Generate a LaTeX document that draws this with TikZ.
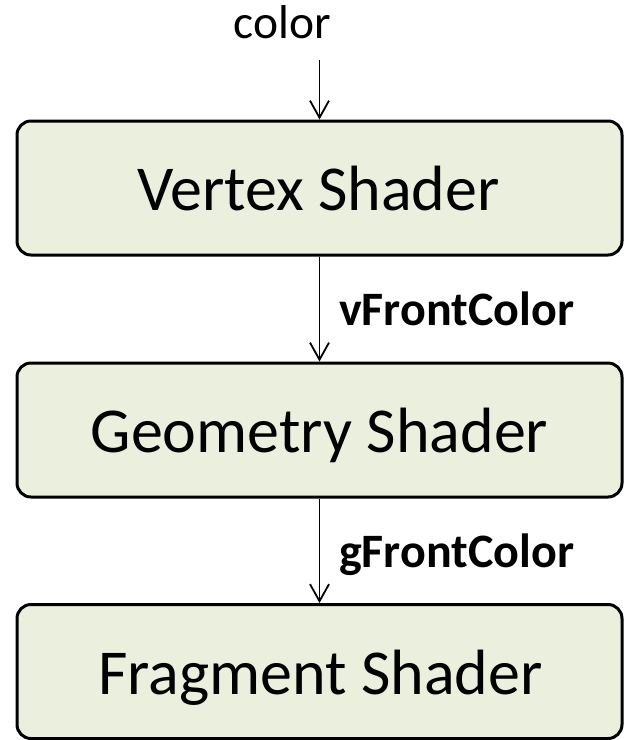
\documentclass[tikz,border=0pt]{standalone}
\usepackage{fontspec}
\setmainfont{Carlito}
\usetikzlibrary{arrows.meta}
\definecolor{boxfill}{RGB}{235,239,222}
\tikzset{
  shaderbox/.style={draw=black, fill=boxfill, line width=3pt, rounded corners=14pt,
    minimum width=605pt, minimum height=134pt, inner sep=0pt},
  flowarrow/.style={line width=1.8pt, -{Straight Barb[length=17pt,width=19pt,line width=1.8pt]}},
  boxtext/.style={font=\fontsize{64}{70}\selectfont, anchor=base, inner sep=0pt},
  labeltext/.style={font=\fontsize{48}{54}\selectfont\bfseries, anchor=base west, inner sep=0pt},
}
\begin{document}
\begin{tikzpicture}[x=1pt,y=-1pt]
\useasboundingbox (0,0) rectangle (625,740);
\node[shaderbox] (vs) at (319.5,188) {};
\node[shaderbox] (gs) at (319.5,430) {};
\node[shaderbox] (fs) at (319.5,671.5) {};
\node[boxtext] (vst) at (318.5,210.5) {Vertex Shader};
\node[boxtext] (gst) at (319.5,452.5) {Geometry Shader};
\node[boxtext] (fst) at (320.5,694) {Fragment Shader};
\node[font=\fontsize{47.5}{54}\selectfont, anchor=base, inner sep=0pt] (col) at (282.5,38) {color};
\coordinate (cin) at (319.5,60);
\draw[flowarrow] (cin) -- (vs.north);
\draw[flowarrow] (vs.south) -- (gs.north);
\draw[flowarrow] (gs.south) -- (fs.north);
\node[labeltext] (vl) at (339,325.5) {vFrontColor};
\node[labeltext] (gl) at (339,567) {gFrontColor};
\end{tikzpicture}
\end{document}
